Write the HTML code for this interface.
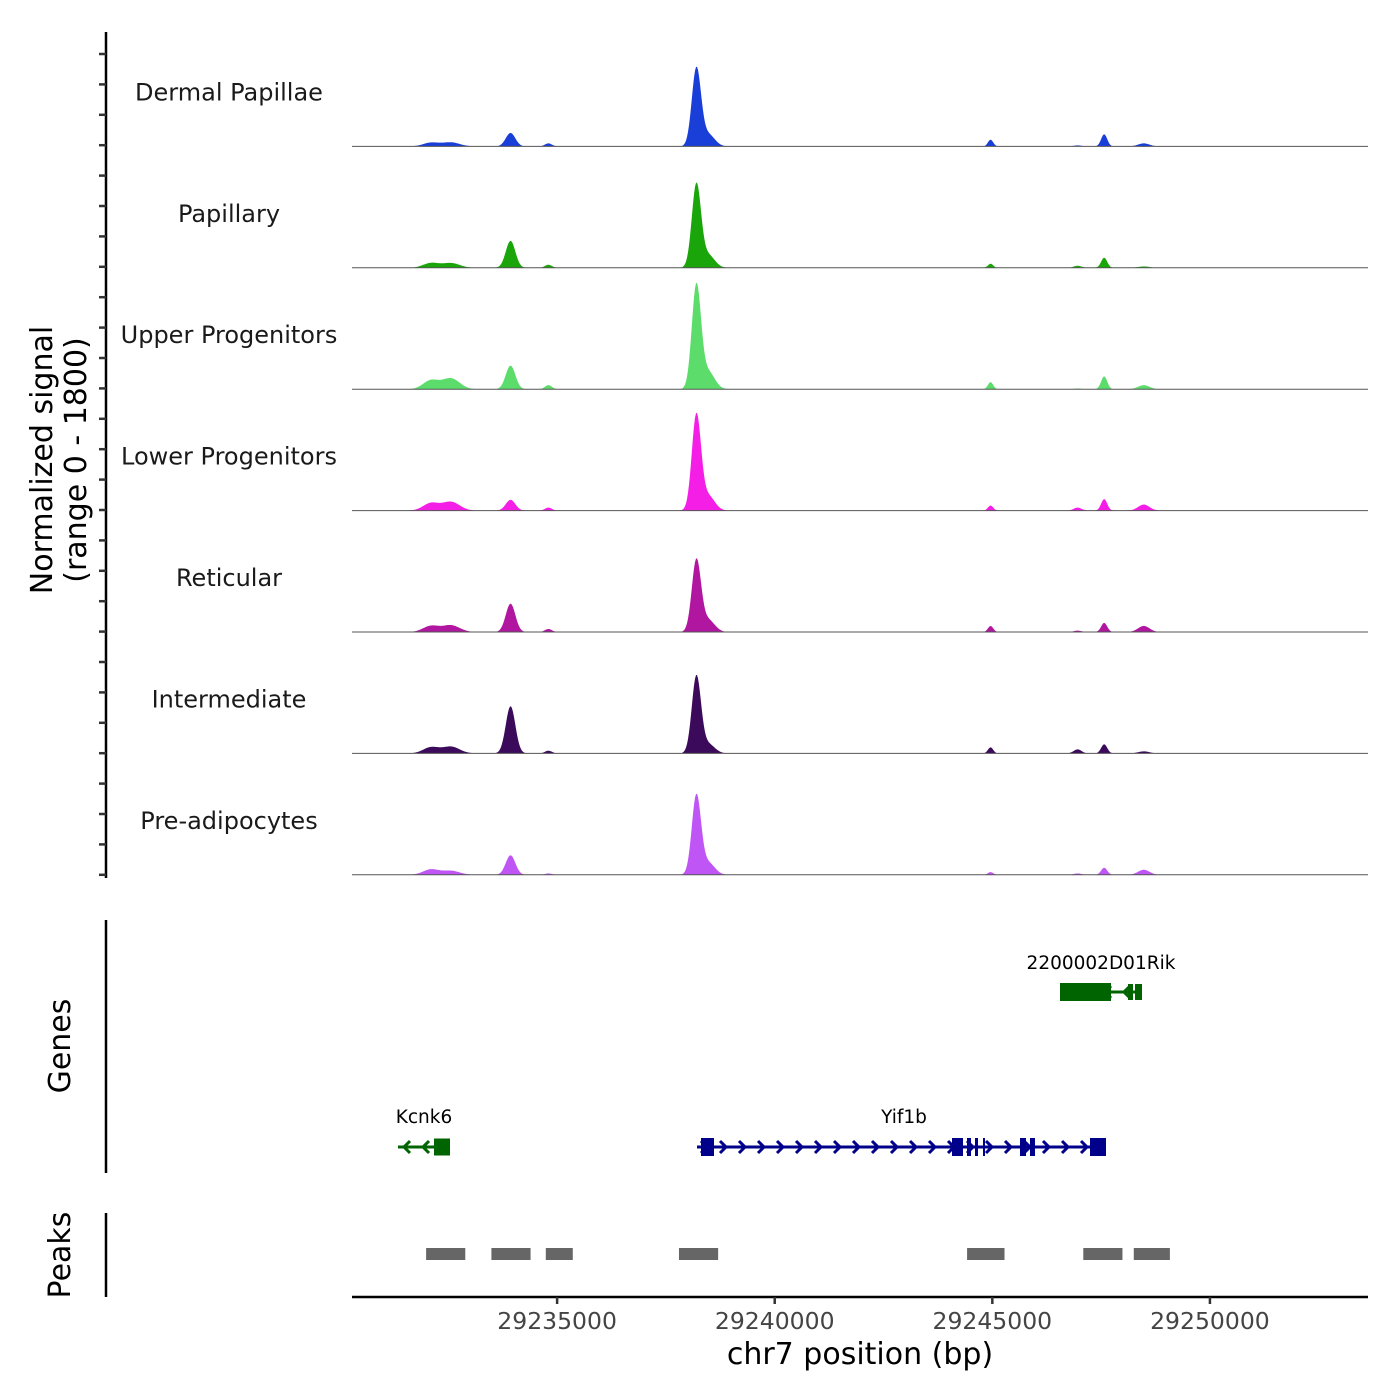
<!DOCTYPE html>
<html><head><meta charset="utf-8"><style>
html,body{margin:0;padding:0;background:#fff}
svg{display:block;font-family:"DejaVu Sans","Liberation Sans",sans-serif}
</style></head><body>
<svg id="chart" width="1400" height="1400" viewBox="0 0 1400 1400" xmlns="http://www.w3.org/2000/svg">
<rect width="1400" height="1400" fill="#fff"/>
<g id="tracks"></g>
<line x1="106" y1="32" x2="106" y2="878" stroke="#000" stroke-width="2.5"/>
<g id="yticks"></g>
<text transform="translate(52,460) rotate(-90)" text-anchor="middle" font-size="30">Normalized signal</text>
<text transform="translate(86,460) rotate(-90)" text-anchor="middle" font-size="30">(range 0 - 1800)</text>
<line x1="106" y1="920" x2="106" y2="1173" stroke="#000" stroke-width="2.5"/>
<text transform="translate(70,1046) rotate(-90)" text-anchor="middle" font-size="30">Genes</text>
<line x1="106" y1="1213" x2="106" y2="1297" stroke="#000" stroke-width="2.5"/>
<text transform="translate(70,1255) rotate(-90)" text-anchor="middle" font-size="30">Peaks</text>
<g id="genes"></g>
<g id="peaks"></g>
<line x1="352" y1="1297" x2="1368" y2="1297" stroke="#000" stroke-width="2.5"/>
<g id="xticks"></g>
<text x="860" y="1364" text-anchor="middle" font-size="30">chr7 position (bp)</text>
</svg>
<script>
const trackNames = ["Dermal Papillae","Papillary","Upper Progenitors","Lower Progenitors","Reticular","Intermediate","Pre-adipocytes"];
const trackColors = ["#1a3fd8","#1aa50a","#5bdc6b","#f51ee6","#b0169f","#3b0a5a","#bf55f5"];
const peakCenters = [29232100,29232560,29233930,29234800,29238200,29238470,29244960,29246960,29247570,29248480];
const peakWidths  = [180,200,110,80,105,150,60,90,70,130];
const signalDermal = [55,60,200,45,1150,180,100,15,180,45];
const signalPapillary = [70,70,400,45,1230,190,60,30,150,20];
const signalUpper = [130,160,350,60,1530,260,105,10,190,60];
const signalLower = [110,130,160,45,1410,220,75,45,170,90];
const signalReticular = [90,100,420,45,1060,180,90,20,135,90];
const signalIntermediate = [90,100,700,40,1140,140,90,60,135,30];
const signalPreadipo = [80,60,290,20,1170,180,40,20,105,75];
const trackSignals = [signalDermal,signalPapillary,signalUpper,signalLower,signalReticular,signalIntermediate,signalPreadipo];
const xTicks = [29235000,29240000,29245000,29250000];
const peakStarts = [29231990,29233490,29234740,29237800,29244420,29247090,29248250];
const peakEndsArr = [29232890,29234390,29235360,29238700,29245280,29247990,29249080];

const NS='http://www.w3.org/2000/svg';
const X0=352,X1=1368,BP0=29230287,BP1=29253632;
const xs=bp=>X0+(bp-BP0)/(BP1-BP0)*(X1-X0);
const TRK_H=121.4, TOP=25, YMAX=1800;
function mk(tag,attrs,parent){const e=document.createElementNS(NS,tag);for(const k in attrs)e.setAttribute(k,attrs[k]);parent.appendChild(e);return e;}
const tracks=document.getElementById('tracks');
trackNames.forEach((name,t)=>{
  const base=TOP+TRK_H*(t+1);
  const g=mk('g',{},tracks);
  
  
  let d='M'+X0+' '+base;
  const sig=trackSignals[t];
  for(let px=398;px<=1170;px+=1){
    const bp=BP0+(px-X0)/(X1-X0)*(BP1-BP0);
    let v=0;
    for(let i=0;i<peakCenters.length;i++){const z=(bp-peakCenters[i])/peakWidths[i];v+=sig[i]*Math.exp(-0.5*z*z);}
    const y=base-v/YMAX*TRK_H;
    d+=' L'+px+' '+y.toFixed(2);
  }
  d+=' L1170 '+base+' Z';
  const a=mk('path',{d:d,fill:trackColors[t]},g);
  
  
  const bl=mk('line',{x1:X0,x2:X1,y1:base,y2:base,stroke:'#555','stroke-width':1},g);
  
  
  const lb=mk('text',{x:229,y:base-46,'text-anchor':'middle','font-size':24,fill:'#1a1a1a'},g);
  lb.textContent=name;
  
  
});
const yt=document.getElementById('yticks');
for(let y=54;y<=880;y+=30.4){
  const l=mk('line',{x1:99,x2:106,y1:y,y2:y,stroke:'#333','stroke-width':2.5},yt);
  
  
}
const xt=document.getElementById('xticks');
xTicks.forEach(v=>{
  const x=xs(v);
  const l=mk('line',{x1:x,x2:x,y1:1297,y2:1304,stroke:'#333','stroke-width':2.5},xt);
  
  
  const tx=mk('text',{x:x,y:1329,'text-anchor':'middle','font-size':23.5,fill:'#444'},xt);
  tx.textContent=v;
  
  
});
const pk=document.getElementById('peaks');
peakStarts.forEach((s,i)=>{
  const r=mk('rect',{x:xs(s),y:1248,width:xs(peakEndsArr[i])-xs(s),height:12,fill:'#666'},pk);
  
  
});
const gn=document.getElementById('genes');
function gene(name,color,x1,x2,y,exons,dir,lx,ly){
  const g=mk('g',{},gn);
  
  
  mk('line',{x1:x1,x2:x2,y1:y,y2:y,stroke:color,'stroke-width':3},g);
  const step=19;
  for(let x=x1+8;x<x2-6;x+=step){
    const d=dir>0?`M${x-4} ${y-6} L${x+2} ${y} L${x-4} ${y+6}`:`M${x+4} ${y-6} L${x-2} ${y} L${x+4} ${y+6}`;
    mk('path',{d:d,stroke:color,'stroke-width':3,fill:'none'},g);
  }
  exons.forEach(e=>mk('rect',{x:e[0],y:y-e[2]/2,width:e[1]-e[0],height:e[2],fill:color},g));
  const t=mk('text',{x:lx,y:ly,'text-anchor':'middle','font-size':18.5,fill:'#000'},g);
  t.textContent=name;
}
gene('2200002D01Rik','#006400',1061,1142,992,[[1060,1111,18],[1128,1133,16],[1135,1142,16]],-1,1101,969);
gene('Kcnk6','#006400',398,450,1147,[[434,450,17]],-1,424,1123);
gene('Yif1b','#00008b',697,1106,1147,[[701,714,18],[952,963,18],[967,971,18],[975,978,18],[983,985,18],[1020,1026,18],[1030,1035,18],[1090,1106,18]],1,904,1123);
</script>
</body></html>
